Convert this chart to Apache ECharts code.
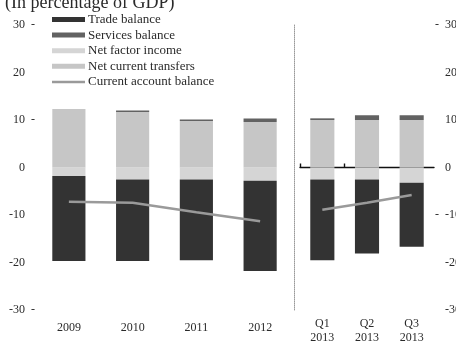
<!DOCTYPE html>
<html>
<head>
<meta charset="utf-8">
<script src="https://cdn.jsdelivr.net/npm/echarts@6/dist/echarts.min.js"></script>
<style>
  html, body { margin: 0; padding: 0; background: #fff; }
  #chart { width: 456px; height: 344px; }
</style>
</head>
<body>
<div id="chart"></div>
<script>
// Annual figures (left panel)
const years = ['2009', '2010', '2011', '2012'];
const tradeAnnual    = [-17.9, -17.2, -17.0, -19.0];
const servicesAnnual = [0.0, 0.3, 0.3, 0.7];
const factorAnnual   = [-1.8, -2.5, -2.5, -2.8];
const transfersAnnual = [12.3, 11.7, 9.8, 9.6];
const currentAnnual  = [-7.2, -7.4, -9.4, -11.3];

// Quarterly figures (right panel)
const quarters = ['Q1\n2013', 'Q2\n2013', 'Q3\n2013'];
const tradeQuarter    = [-17.0, -15.6, -13.5];
const servicesQuarter = [0.35, 1.0, 1.0];
const factorQuarter   = [-2.5, -2.5, -3.2];
const transfersQuarter = [10.0, 10.0, 10.0];
const currentQuarter  = [-8.9, -7.4, -5.8];

// Axis tick labels
const yMin = -30, yMax = 30, yStep = 10;
const leftTickMarks = [30, 10, -30];
const rightTickMarks = [30, -10];

const names = {
  trade: 'Trade balance',
  services: 'Services balance',
  factor: 'Net factor income',
  transfers: 'Net current transfers',
  current: 'Current account balance'
};
const colors = {
  trade: '#333333',
  services: '#626262',
  factor: '#d5d5d5',
  transfers: '#c6c6c6',
  current: '#9a9a9a'
};

const serif = '"Liberation Serif", "DejaVu Serif", serif';
const textColor = '#2a2a2a';

function barSeries(key, data, axis, width) {
  return {
    name: names[key],
    type: 'bar',
    stack: 'bop' + axis,
    xAxisIndex: axis,
    yAxisIndex: axis,
    barWidth: width,
    itemStyle: { color: colors[key] },
    data: data
  };
}
function lineSeries(data, axis) {
  return {
    name: names.current,
    type: 'line',
    xAxisIndex: axis,
    yAxisIndex: axis,
    symbol: 'none',
    lineStyle: { color: colors.current, width: 2.5 },
    itemStyle: { color: colors.current },
    data: data,
    z: 5
  };
}

const thinBar = 'path://M0 0H40V3H0Z';

const chart = echarts.init(document.getElementById('chart'), null, { renderer: 'canvas' });
chart.setOption({
  animation: false,
  backgroundColor: '#fff',
  title: {
    text: '(In percentage of GDP)',
    left: 0,
    top: -11,
    textStyle: { fontFamily: serif, fontSize: 18, fontWeight: 'normal', color: textColor }
  },
  legend: {
    orient: 'vertical',
    left: 47,
    top: 8,
    itemWidth: 33,
    itemHeight: 5,
    itemGap: 2.6,
    symbolKeepAspect: true,
    textStyle: { fontFamily: serif, fontSize: 13, color: textColor, padding: [0, 0, 0, -2] },
    data: [
      { name: names.trade, icon: 'rect' },
      { name: names.services, icon: 'rect' },
      { name: names.factor, icon: 'rect' },
      { name: names.transfers, icon: 'rect' },
      { name: names.current, icon: thinBar }
    ]
  },
  grid: [
    { left: 37, right: 164, top: 25, bottom: 34, outerBoundsMode: 'none' },
    { left: 300, right: 22, top: 25, bottom: 34, outerBoundsMode: 'none' }
  ],
  xAxis: [
    {
      type: 'category', gridIndex: 0, data: years,
      axisLine: { show: false }, axisTick: { show: false },
      axisLabel: { margin: 12, fontFamily: serif, fontSize: 12, color: textColor }
    },
    {
      type: 'category', gridIndex: 1, data: quarters, position: 'bottom',
      axisLine: { show: false }, axisTick: { show: false },
      axisLabel: { margin: 7, fontFamily: serif, fontSize: 12, lineHeight: 14, color: textColor }
    },
    {
      // zero line of the quarterly panel, ticked at the first two period boundaries
      type: 'value', gridIndex: 1, min: 0, max: quarters.length,
      axisLine: { show: true, onZero: true, lineStyle: { color: '#111', width: 1.4 } },
      axisTick: { show: true, length: 4, customValues: [0, 1], lineStyle: { color: '#111', width: 1.4 } },
      axisLabel: { show: false },
      splitLine: { show: false }
    }
  ],
  yAxis: [
    {
      type: 'value', gridIndex: 0, min: yMin, max: yMax, interval: yStep,
      axisLine: { show: false }, axisTick: { show: false }, splitLine: { show: false },
      axisLabel: {
        margin: 2,
        formatter: (v) => `{v|${v}}{t|${leftTickMarks.includes(v) ? '-' : ' '}}`,
        rich: {
          v: { fontFamily: serif, fontSize: 12, color: textColor },
          t: { width: 10, align: 'right', fontFamily: serif, fontSize: 12, color: textColor }
        }
      }
    },
    {
      type: 'value', gridIndex: 1, position: 'right', min: yMin, max: yMax, interval: yStep,
      axisLine: { show: false }, axisTick: { show: false }, splitLine: { show: false },
      axisLabel: {
        margin: 1,
        formatter: (v) => `{t|${rightTickMarks.includes(v) ? '-' : ' '}}{v|${v}}`,
        rich: {
          v: { fontFamily: serif, fontSize: 12, color: textColor },
          t: { width: 10, align: 'left', fontFamily: serif, fontSize: 12, color: textColor }
        }
      }
    },
    {
      // dotted divider between the annual and quarterly panels
      type: 'value', gridIndex: 1, position: 'left', offset: 6, min: yMin, max: yMax, interval: yStep,
      axisLine: { show: true, lineStyle: { color: '#9a9a9a', type: 'dotted', width: 1 } },
      axisTick: { show: false }, axisLabel: { show: false }, splitLine: { show: false }
    }
  ],
  series: [
    barSeries('factor', factorAnnual, 0, '52%'),
    barSeries('transfers', transfersAnnual, 0, '52%'),
    barSeries('services', servicesAnnual, 0, '52%'),
    barSeries('trade', tradeAnnual, 0, '52%'),
    lineSeries(currentAnnual, 0),
    barSeries('factor', factorQuarter, 1, '54%'),
    barSeries('transfers', transfersQuarter, 1, '54%'),
    barSeries('services', servicesQuarter, 1, '54%'),
    barSeries('trade', tradeQuarter, 1, '54%'),
    lineSeries(currentQuarter, 1)
  ]
});
</script>
</body>
</html>
